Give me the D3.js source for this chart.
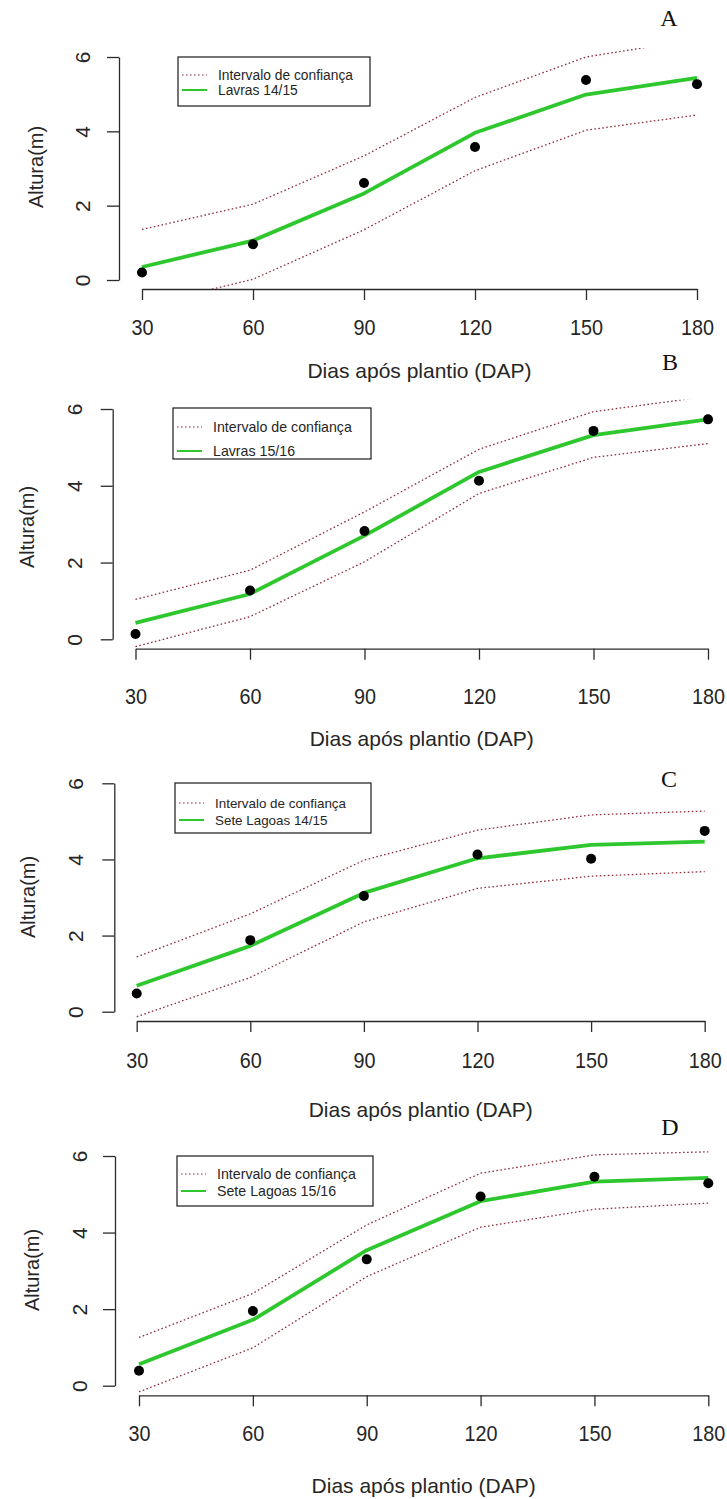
<!DOCTYPE html>
<html><head>
<meta charset="utf-8">
<title>Altura x DAP</title>
<script src="https://d3js.org/d3.v7.min.js"></script>
<style>
  body { margin: 0; background: #fff; }
  svg text { font-family: "Liberation Sans", Arial, sans-serif; fill: #262626; }
  text.letter { font-family: "Liberation Serif", "Times New Roman", serif; fill: #111; }
</style>
</head>
<body>
<svg id="chart" width="727" height="1499"></svg>
<script>

// data (height in m at each day after planting)
const days = [30, 60, 90, 120, 150, 180];
const yTicks = [0, 2, 4, 6];
const letters = ["A", "B", "C", "D"];
const siteNames = ["Lavras 14/15", "Lavras 15/16", "Sete Lagoas 14/15", "Sete Lagoas 15/16"];
const ciLabel = "Intervalo de confiança";

const observedA = [0.20, 0.96, 2.61, 3.58, 5.38, 5.27];
const fittedA   = [0.35, 1.06, 2.33, 3.96, 4.99, 5.44];
const upperA    = [1.36, 2.04, 3.34, 4.91, 6.00, 6.48];
const lowerA    = [-0.70, 0.02, 1.35, 2.94, 4.03, 4.44];

const observedB = [0.14, 1.27, 2.82, 4.13, 5.43, 5.73];
const fittedB   = [0.43, 1.18, 2.70, 4.36, 5.32, 5.73];
const upperB    = [1.04, 1.80, 3.32, 4.95, 5.93, 6.33];
const lowerB    = [-0.19, 0.59, 2.02, 3.80, 4.74, 5.10];

const observedC = [0.48, 1.88, 3.04, 4.13, 4.02, 4.75];
const fittedC   = [0.68, 1.73, 3.12, 4.03, 4.38, 4.47];
const upperC    = [1.44, 2.57, 3.98, 4.77, 5.17, 5.27];
const lowerC    = [-0.13, 0.90, 2.36, 3.24, 3.56, 3.68];

const observedD = [0.39, 1.95, 3.30, 4.94, 5.46, 5.29];
const fittedD   = [0.56, 1.72, 3.54, 4.82, 5.33, 5.43];
const upperD    = [1.26, 2.41, 4.20, 5.55, 6.03, 6.11];
const lowerD    = [-0.16, 0.99, 2.85, 4.14, 4.61, 4.77];

const observed = [observedA, observedB, observedC, observedD];
const fitted = [fittedA, fittedB, fittedC, fittedD];
const upper = [upperA, upperB, upperC, upperD];
const lower = [lowerA, lowerB, lowerC, lowerD];

// where each panel sits on the page
const layouts = [
  {x0:142, x1:697, y0:280, y6:57, axX:119, axY:289, tickY:335, titleY:378, labX:36, labY:167, tlX:82, letX:669, letY:26, leg:[178,57,370,106], rows:[75,90], legFont:13.8},
  {x0:135.5, x1:708, y0:639.3, y6:409, axX:112.7, axY:648.7, tickY:704, titleY:746, labX:27, labY:527, tlX:74, letX:670, letY:370, leg:[173,408,371,459], rows:[427,451], legFont:14.2},
  {x0:136.7, x1:704.7, y0:1011.7, y6:783.3, axX:114.3, axY:1021, tickY:1068, titleY:1117, labX:28, labY:897, tlX:75, letX:669, letY:787, leg:[175,783,371,833], rows:[803,820], legFont:13.4},
  {x0:139, x1:708.3, y0:1385.7, y6:1156, axX:115, axY:1395.3, tickY:1441, titleY:1493, labX:32, labY:1270, tlX:79, letX:670, letY:1135, leg:[177,1156,373,1206], rows:[1174,1191], legFont:14.2}
];

const greenCol = "#2ec82e";
const ciCol = "#8e3040";

const svg = d3.select("#chart");

layouts.forEach((L, i) => {
  const g = svg.append("g");
  const x = d3.scaleLinear().domain([30, 180]).range([L.x0, L.x1]);
  const y = d3.scaleLinear().domain([0, 6]).range([L.y0, L.y6]);

  // R-style plot region (4% beyond the data range) used for clipping
  const clipId = "clip" + i;
  svg.append("clipPath").attr("id", clipId)
     .append("rect")
     .attr("x", x(24)).attr("y", y(6.24))
     .attr("width", x(186) - x(24)).attr("height", y(-0.24) - y(6.24));

  // axes
  const xAxis = g.append("g").attr("transform", "translate(0," + L.axY + ")")
     .call(d3.axisBottom(x).tickValues(days).tickFormat(d3.format("d"))
             .tickSize(11).tickSizeOuter(0).tickPadding(0));
  xAxis.selectAll(".tick text").attr("dy", null)
     .attr("y", L.tickY - L.axY)
     .attr("transform", "scale(0.9,1)")
     .style("font-size", "22px");

  const yAxis = g.append("g").attr("transform", "translate(" + L.axX + ",0)")
     .call(d3.axisLeft(y).tickValues(yTicks).tickFormat(d3.format("d"))
             .tickSize(12).tickSizeOuter(0));
  yAxis.selectAll(".tick text")
     .attr("x", null).attr("dy", null)
     .attr("text-anchor", "middle")
     .attr("transform", "translate(" + (L.tlX - L.axX) + ",0) rotate(-90)")
     .attr("dy", "0.36em")
     .style("font-size", "21px");

  [xAxis, yAxis].forEach(a => {
    a.selectAll("path, line").attr("stroke", "#2a2a2a").attr("stroke-width", 1.3);
  });

  // axis titles
  g.append("text")
   .attr("x", (L.x0 + L.x1) / 2).attr("y", L.titleY)
   .attr("text-anchor", "middle").style("font-size", "21px")
   .text("Dias após plantio (DAP)");

  g.append("text")
   .attr("transform", "translate(" + L.labX + "," + L.labY + ") rotate(-90)")
   .attr("dy", "0.36em")
   .attr("text-anchor", "middle").style("font-size", "20px")
   .text("Altura(m)");

  // panel letter
  g.append("text").attr("class", "letter")
   .attr("x", L.letX).attr("y", L.letY)
   .attr("text-anchor", "middle").style("font-size", "24px")
   .text(letters[i]);

  // lines
  const line = d3.line().x((d, k) => x(days[k])).y(d => y(d));
  const plot = g.append("g").attr("clip-path", "url(#" + clipId + ")");

  [upper[i], lower[i]].forEach(s => {
    plot.append("path").datum(s)
        .attr("d", line).attr("fill", "none")
        .attr("stroke", ciCol).attr("stroke-width", 1.3)
        .attr("stroke-dasharray", "1.6,2.4");
  });

  plot.append("path").datum(fitted[i])
      .attr("d", line).attr("fill", "none")
      .attr("stroke", greenCol).attr("stroke-width", 3.8)
      .attr("stroke-linejoin", "round");

  plot.selectAll("circle").data(observed[i])
      .join("circle")
      .attr("cx", (d, k) => x(days[k]))
      .attr("cy", d => y(d))
      .attr("r", 5)
      .attr("fill", "#000");

  // legend
  const [lx0, ly0, lx1, ly1] = L.leg;
  const leg = g.append("g");
  leg.append("rect")
     .attr("x", lx0).attr("y", ly0)
     .attr("width", lx1 - lx0).attr("height", ly1 - ly0)
     .attr("fill", "#fff").attr("stroke", "#1a1a1a").attr("stroke-width", 1.2);

  leg.append("line")
     .attr("x1", lx0 + 4).attr("x2", lx0 + 29)
     .attr("y1", L.rows[0]).attr("y2", L.rows[0])
     .attr("stroke", ciCol).attr("stroke-width", 1.2).attr("stroke-dasharray", "1.6,2.4");
  leg.append("line")
     .attr("x1", lx0 + 4).attr("x2", lx0 + 29)
     .attr("y1", L.rows[1]).attr("y2", L.rows[1])
     .attr("stroke", greenCol).attr("stroke-width", 2);

  [ciLabel, siteNames[i]].forEach((t, k) => {
    leg.append("text")
       .attr("x", lx0 + 40).attr("y", L.rows[k])
       .attr("dy", "0.36em")
       .style("font-size", L.legFont + "px")
       .text(t);
  });
});

</script>
</body>
</html>
